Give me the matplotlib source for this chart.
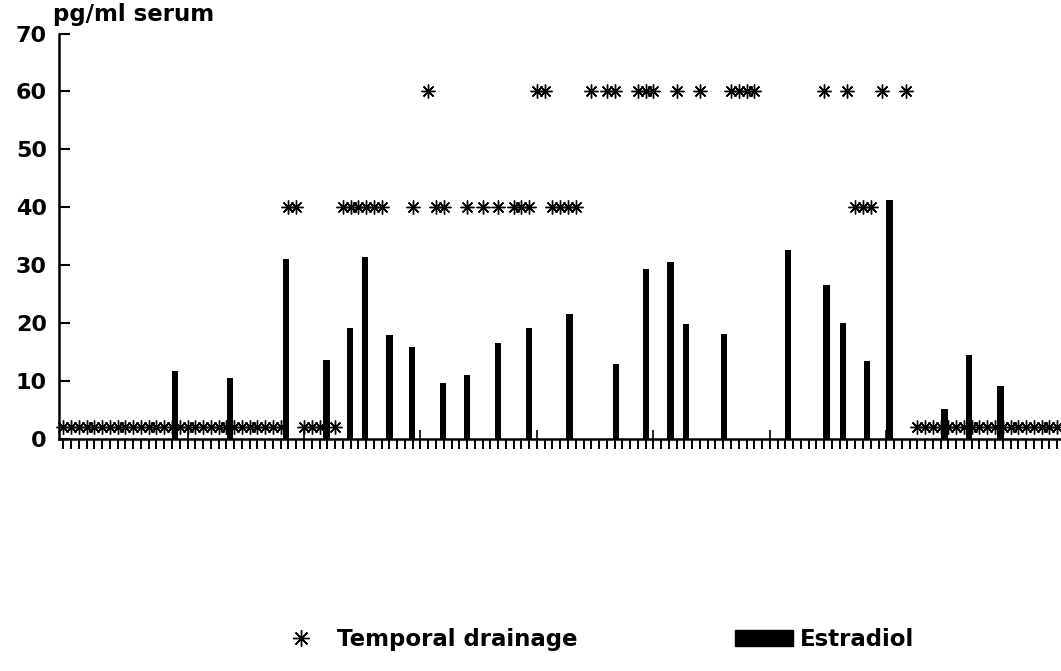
import numpy as np
import matplotlib
matplotlib.use('Agg')
import matplotlib.pyplot as plt
from matplotlib.lines import Line2D
from matplotlib.patches import Patch

plt.rcParams['font.family'] = ['DejaVu Sans']

# sample number along the x axis, estradiol in pg/ml serum
estradiol_x = [14.4, 21.5, 28.7, 33.9, 36.9, 38.9, 42.0, 44.9, 48.9, 52.0, 56.0, 60.0, 65.2,
               71.2, 75.1, 78.2, 80.2, 85.1, 93.3, 98.3, 100.4, 103.5, 106.4, 113.5, 116.7, 120.7]
estradiol_pg = [11.7, 10.5, 31.1, 13.6, 19.1, 31.4, 17.9, 15.9, 9.6, 11.1, 16.5, 19.1, 21.6,
                13.0, 29.3, 30.5, 19.9, 18.1, 32.6, 26.6, 20.0, 13.5, 41.2, 5.1, 14.5, 9.2]

# temporal drainage samples, grouped by the level they are plotted at
drain_levels = [2, 40, 60]
drain_x_2 = [0, 1, 2, 3, 4, 5, 6, 7, 8, 9, 10, 11, 12, 13, 14, 15, 16, 17, 18, 19, 20, 21, 22,
             23, 24, 25, 26, 27, 28, 31, 32, 33, 35,
             110, 111, 112, 113, 114, 115, 116, 117, 118, 119, 120, 121, 122, 123, 124, 125,
             126, 127, 128]
drain_x_40 = [29, 30, 36, 37, 38, 39, 40, 41, 45, 48, 49, 52, 54, 56, 58, 59, 60,
              63, 64, 65, 66, 102, 103, 104]
drain_x_60 = [47, 61, 62, 68, 70, 71, 74, 75, 76, 79, 82, 86, 87, 88, 89, 98, 101, 105.5, 108.5]

n_samples = 129
day_marks = [16, 31, 46, 61, 76, 91, 106, 121]

star = (8, 2, 0)

fig = plt.figure(figsize=(10.61, 6.71), dpi=100)
ax = fig.add_axes([0.056, 0.346, 0.944, 0.604])

ax.bar(estradiol_x, estradiol_pg, width=0.8, color='black', zorder=3)

for xs, lvl in zip([drain_x_2, drain_x_40, drain_x_60], drain_levels):
    ax.plot(xs, [lvl] * len(xs), ls='none', marker=star, ms=10, mec='black',
            mew=1.0, zorder=4, clip_on=False)

ax.vlines(day_marks, 0, 1.6, color='black', lw=1.2, zorder=2)

ax.set_xlim(-0.5, 128.5)
ax.set_ylim(0, 70)
ax.set_xticks(np.arange(n_samples))
ax.set_xticklabels([])
ax.set_yticks(range(0, 80, 10))
ax.tick_params(axis='x', direction='out', length=7, width=1.4)
ax.tick_params(axis='y', direction='in', length=8, width=1.5, pad=9, labelsize=16)
for t in ax.get_yticklabels():
    t.set_fontweight('bold')

for s in ['top', 'right']:
    ax.spines[s].set_visible(False)
for s in ['left', 'bottom']:
    ax.spines[s].set_linewidth(1.8)

fig.text(0.050, 0.978, 'pg/ml serum', fontsize=16.5, fontweight='bold', ha='left', va='center')

handles = [Line2D([], [], ls='none', marker=star, ms=12, mec='black', mew=1.0),
           Patch(fc='black', ec='black')]
fig.legend(handles, ['Temporal drainage', 'Estradiol'], loc='center',
           bbox_to_anchor=(0.559, 0.047), ncol=2, frameon=False,
           handlelength=2.5, handleheight=0.75, handletextpad=0.3, columnspacing=6.9,
           prop={'weight': 'bold', 'size': 16.5})

fig.savefig('out.png', dpi=100)
